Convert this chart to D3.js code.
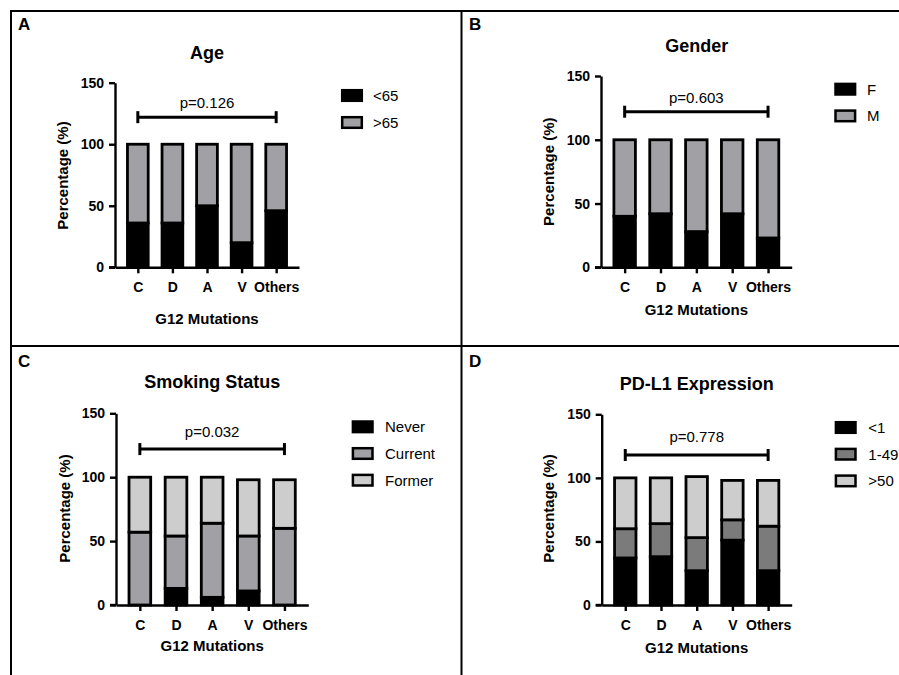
<!DOCTYPE html>
<html>
<head>
<meta charset="utf-8">
<script src="https://cdn.jsdelivr.net/npm/d3@7/dist/d3.min.js"></script>
<style>
  html, body { margin: 0; padding: 0; background: #fff; }
  svg { display: block; font-family: "Liberation Sans", Arial, Helvetica, sans-serif; }
</style>
</head>
<body>
<svg id="chart" width="899" height="675"></svg>
<script>
// ---------------- DATA ----------------
const categories = ["C", "D", "A", "V", "Others"];
const yTicks = [0, 50, 100, 150];

const ageLabels = ["<65", ">65"];
const ageLt65 = [36, 36, 50, 20, 46];
const ageGt65 = [64, 64, 50, 80, 54];

const genderLabels = ["F", "M"];
const genderF = [40, 42, 28, 42, 23];
const genderM = [60, 58, 72, 58, 77];

const smokeLabels = ["Never", "Current", "Former"];
const smokeNever = [0, 13, 6, 11, 0];
const smokeCurrent = [57, 41, 58, 43, 60];
const smokeFormer = [43, 46, 36, 44, 38];

const pdl1Labels = ["<1", "1-49", ">50"];
const pdl1Lt1 = [37, 38, 27, 51, 27];
const pdl1Mid = [23, 26, 26, 16, 35];
const pdl1Gt50 = [40, 36, 48, 31, 36];

const panelLetters = ["A", "B", "C", "D"];
const panelTitles = ["Age", "Gender", "Smoking Status", "PD-L1 Expression"];
const pValueTexts = ["p=0.126", "p=0.603", "p=0.032", "p=0.778"];
const pBracketValue = [122, 122, 122, 118];
const xTitle = "G12 Mutations";
const yTitle = "Percentage (%)";

// ---------------- LAYOUT / STYLE ----------------
const FONT = '"Liberation Sans", Arial, Helvetica, sans-serif';
const BLACK = "#000000";
const GRAY = "#a1a1a5";
const LIGHT = "#cdcdcd";
const DARK = "#7b7b7b";

const panels = [
  { letter: [18, 30], title: [207, 59], ax: [115, 299], ay: [267.3, 82.7],
    xt: 324, yt: [63, 175.5], pText: 107.5, legend: [341, 89, 373], legStep: 27,
    series: [ageLt65, ageGt65], labels: ageLabels, colors: [BLACK, GRAY] },
  { letter: [469, 29.5], title: [696.7, 51.7], ax: [601, 791.7], ay: [267.3, 76],
    xt: 315, yt: [549, 171.7], pText: 103.3, legend: [834.3, 82.7, 867], legStep: 26.7,
    series: [genderF, genderM], labels: genderLabels, colors: [BLACK, GRAY] },
  { letter: [18, 367.3], title: [212.3, 388.3], ax: [116, 308.3], ay: [605, 413.3],
    xt: 651, yt: [65, 508.5], pText: 436.7, legend: [351.7, 420.3, 385], legStep: 26.7,
    series: [smokeNever, smokeCurrent, smokeFormer], labels: smokeLabels, colors: [BLACK, GRAY, LIGHT] },
  { letter: [469, 367.3], title: [696.7, 390], ax: [601.7, 791.7], ay: [605, 414.3],
    xt: 653.3, yt: [548.3, 508.5], pText: 442.3, legend: [834.7, 421, 868.3], legStep: 26.7,
    series: [pdl1Lt1, pdl1Mid, pdl1Gt50], labels: pdl1Labels, colors: [BLACK, DARK, LIGHT] }
];

const svg = d3.select("#chart");

// panel borders
const borders = svg.append("g").attr("stroke", BLACK).attr("stroke-width", 2).attr("fill", "none");
borders.append("line").attr("x1", 10).attr("x2", 899).attr("y1", 11).attr("y2", 11);
borders.append("line").attr("x1", 11).attr("x2", 11).attr("y1", 10).attr("y2", 675);
borders.append("line").attr("x1", 461.5).attr("x2", 461.5).attr("y1", 10).attr("y2", 675);
borders.append("line").attr("x1", 10).attr("x2", 899).attr("y1", 346).attr("y2", 346);

panels.forEach((p, pi) => {
  const g = svg.append("g");

  const x = d3.scalePoint().domain(categories).range(p.ax).padding(0.66);
  const y = d3.scaleLinear().domain([0, 150]).range(p.ay);
  const barW = x.step() * 0.6;

  // panel letter
  g.append("text").attr("x", p.letter[0]).attr("y", p.letter[1])
    .attr("font-size", 17).attr("font-weight", "bold").text(panelLetters[pi]);

  // title
  g.append("text").attr("x", p.title[0]).attr("y", p.title[1])
    .attr("text-anchor", "middle").attr("font-size", 18).attr("font-weight", "bold")
    .text(panelTitles[pi]);

  // stacked data
  const keys = p.labels;
  const rows = categories.map((c, i) => {
    const r = { cat: c };
    keys.forEach((k, ki) => { r[k] = p.series[ki][i]; });
    return r;
  });
  const stacked = d3.stack().keys(keys)(rows);

  stacked.forEach((layer, li) => {
    g.append("g").selectAll("rect").data(layer).join("rect")
      .attr("x", d => x(d.data.cat) - barW / 2)
      .attr("width", barW)
      .attr("y", d => y(d[1]))
      .attr("height", d => Math.max(0, y(d[0]) - y(d[1])))
      .attr("fill", p.colors[li])
      .attr("stroke", BLACK)
      .attr("stroke-width", 2.8);
  });

  // axes
  const yAxis = d3.axisLeft(y).tickValues(yTicks).tickSize(6).tickSizeOuter(0).tickPadding(5);
  const yg = g.append("g").attr("transform", `translate(${p.ax[0]},0)`).call(yAxis);
  const xAxis = d3.axisBottom(x).tickSize(6).tickSizeOuter(0).tickPadding(9);
  const xg = g.append("g").attr("transform", `translate(0,${p.ay[0]})`).call(xAxis);
  [yg, xg].forEach(a => {
    a.select(".domain").attr("stroke", BLACK).attr("stroke-width", 2.4);
    a.selectAll(".tick line").attr("stroke", BLACK).attr("stroke-width", 2.4);
    a.selectAll(".tick text").attr("fill", BLACK).attr("font-size", 14)
      .attr("font-weight", "bold").attr("font-family", FONT);
  });
  // extend x-axis line to meet the 0 tick
  g.append("line").attr("x1", p.ax[0] - 6).attr("x2", p.ax[0]).attr("y1", p.ay[0]).attr("y2", p.ay[0])
    .attr("stroke", BLACK).attr("stroke-width", 2.4);

  // axis titles
  g.append("text").attr("x", (p.ax[0] + p.ax[1]) / 2).attr("y", p.xt)
    .attr("text-anchor", "middle").attr("font-size", 15).attr("font-weight", "bold")
    .text(xTitle);
  g.append("text")
    .attr("transform", `translate(${p.yt[0]},${p.yt[1]}) rotate(-90)`)
    .attr("text-anchor", "middle").attr("dy", "0.36em")
    .attr("font-size", 15).attr("font-weight", "bold").text(yTitle);

  // p-value bracket
  const bx1 = x(categories[0]), bx2 = x(categories[categories.length - 1]);
  const by = y(pBracketValue[pi]);
  const br = g.append("g").attr("stroke", BLACK).attr("stroke-width", 3);
  br.append("line").attr("x1", bx1).attr("x2", bx2).attr("y1", by).attr("y2", by);
  br.append("line").attr("x1", bx1).attr("x2", bx1).attr("y1", by - 6).attr("y2", by + 6);
  br.append("line").attr("x1", bx2).attr("x2", bx2).attr("y1", by - 6).attr("y2", by + 6);
  g.append("text").attr("x", (bx1 + bx2) / 2).attr("y", p.pText)
    .attr("text-anchor", "middle").attr("font-size", 15).text(pValueTexts[pi]);

  // legend
  keys.forEach((k, ki) => {
    const ly = p.legend[1] + ki * p.legStep;
    g.append("rect").attr("x", p.legend[0] + 1.2).attr("y", ly + 1.2)
      .attr("width", 19.6).attr("height", 10.6)
      .attr("fill", p.colors[ki]).attr("stroke", BLACK).attr("stroke-width", 2.5);
    g.append("text").attr("x", p.legend[2]).attr("y", ly + 6.5).attr("dy", "0.36em")
      .attr("font-size", 15).text(k);
  });
});
</script>
</body>
</html>
